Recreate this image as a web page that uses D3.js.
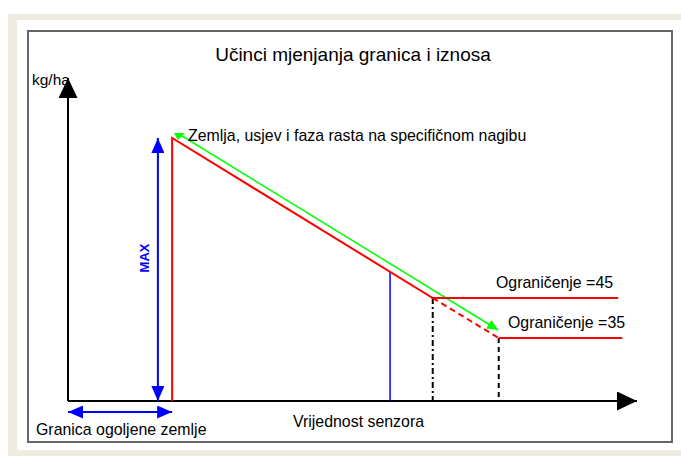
<!DOCTYPE html>
<html>
<head>
    <meta charset="utf-8">
    <title>Učinci mjenjanja granica i iznosa</title>
    <script src="https://d3js.org/d3.v7.min.js"></script>
    <style>
        body { margin: 0; background: #fff; }
        text { font-family: "Liberation Sans", Arial, sans-serif; }
    </style>
</head>
<body>
    <div id="chart"></div>
    <script>
// data (x: sensor value 0-100, y: kg/ha)
const yFloor = 19.25;
const redResponse = [[18.3, 19.25], [18.3, 85], [64.1, 45], [96.7, 45]];
const redExtension = [[64.1, 45], [75.7, 35]];
const redLimit35 = [[75.7, 35], [97.4, 35]];
const greenSlope = [[19.5, 86], [75.6, 37]];
const sensorReading = [[56.6, 19.25], [56.6, 51.6]];
const limitDrops = [[64.1, 45], [75.7, 35]];
const maxArrow = [[15.8, 85], [15.8, 19.25]];
const bareSoil = [0, 18.3];
const limitLabels = ["Ograničenje =45", "Ograničenje =35"];

const W = 681, H = 456;
const svg = d3.select("#chart").append("svg").attr("width", W).attr("height", H);

const x = d3.scaleLinear().domain([0, 100]).range([68, 637]);
const y = d3.scaleLinear().domain([yFloor, 100]).range([401, 78]);
const line = d3.line().x(d => x(d[0])).y(d => y(d[1]));

// window background
svg.append("rect").attr("x", 8).attr("y", 14).attr("width", W).attr("height", H).attr("fill", "#eeebe1");
svg.append("rect").attr("x", 17).attr("y", 20).attr("width", W).attr("height", 430).attr("fill", "#fff");
svg.append("rect").attr("x", 28).attr("y", 31).attr("width", 644).attr("height", 411)
    .attr("fill", "none").attr("stroke", "#666").attr("stroke-width", 2);

// markers
const defs = svg.append("defs");
const marker = (id, w, h, color, orient) => defs.append("marker")
    .attr("id", id).attr("markerUnits", "userSpaceOnUse")
    .attr("markerWidth", w).attr("markerHeight", h)
    .attr("refX", w).attr("refY", h / 2).attr("orient", orient)
    .append("path").attr("d", `M0,0L${w},${h / 2}L0,${h}Z`).attr("fill", color);
marker("blackArrow", 20, 19, "#000", "auto");
marker("blueArrow", 15, 13, "#0000ff", "auto-start-reverse");
marker("greenArrow", 11, 10, "#00ff00", "auto");
defs.append("marker").attr("id", "greenStart").attr("markerUnits", "userSpaceOnUse")
    .attr("markerWidth", 12).attr("markerHeight", 9).attr("refX", 5).attr("refY", 1).attr("orient", 0)
    .append("path").attr("d", "M0,0L11,0L4,7Z").attr("fill", "#00ff00");

// axes
svg.append("line").attr("x1", x(0)).attr("y1", y(yFloor)).attr("x2", x(100)).attr("y2", y(yFloor))
    .attr("stroke", "#000").attr("stroke-width", 2).attr("marker-end", "url(#blackArrow)");
svg.append("line").attr("x1", x(0)).attr("y1", y(yFloor)).attr("x2", x(0)).attr("y2", y(100))
    .attr("stroke", "#000").attr("stroke-width", 2).attr("marker-end", "url(#blackArrow)");

// limit drop lines
svg.selectAll(".drop").data(limitDrops).enter().append("line")
    .attr("class", "drop")
    .attr("x1", d => x(d[0])).attr("x2", d => x(d[0]))
    .attr("y1", d => y(d[1])).attr("y2", y(yFloor))
    .attr("stroke", "#000").attr("stroke-width", 2)
    .attr("stroke-dasharray", (d, i) => i === 0 ? "6,3,2,3" : "5,4");

// blue sensor reading
svg.append("path").attr("d", line(sensorReading)).attr("stroke", "#0000ff").attr("stroke-width", 1.5).attr("fill", "none");

// green slope
svg.append("path").attr("d", line(greenSlope)).attr("stroke", "#00ff00").attr("stroke-width", 1.5).attr("fill", "none")
    .attr("marker-start", "url(#greenStart)").attr("marker-end", "url(#greenArrow)");

// red response
svg.append("path").attr("d", line(redResponse)).attr("stroke", "#ff0000").attr("stroke-width", 2).attr("fill", "none");
svg.append("path").attr("d", line(redExtension)).attr("stroke", "#ff0000").attr("stroke-width", 2).attr("fill", "none")
    .attr("stroke-dasharray", "6,4");
svg.append("path").attr("d", line(redLimit35)).attr("stroke", "#ff0000").attr("stroke-width", 2).attr("fill", "none");

// MAX arrow
svg.append("path").attr("d", line(maxArrow)).attr("stroke", "#0000ff").attr("stroke-width", 2).attr("fill", "none")
    .attr("marker-start", "url(#blueArrow)").attr("marker-end", "url(#blueArrow)");
svg.append("text").attr("transform", `translate(${x(maxArrow[0][0]) - 9},${y(55)}) rotate(-90)`)
    .attr("text-anchor", "middle").attr("font-size", 13).attr("font-weight", "bold").attr("fill", "#0000ff")
    .text("MAX");

// bare soil arrow
svg.append("line").attr("x1", x(bareSoil[0])).attr("x2", x(bareSoil[1]))
    .attr("y1", y(yFloor) + 11).attr("y2", y(yFloor) + 11)
    .attr("stroke", "#0000ff").attr("stroke-width", 2)
    .attr("marker-start", "url(#blueArrow)").attr("marker-end", "url(#blueArrow)");

// text
svg.append("text").attr("x", 353).attr("y", 61).attr("text-anchor", "middle").attr("font-size", 19)
    .text("Učinci mjenjanja granica i iznosa");
svg.append("text").attr("x", 32).attr("y", 85).attr("font-size", 15.5).text("kg/ha");
svg.append("text").attr("x", 188).attr("y", 141).attr("font-size", 15.9)
    .text("Zemlja, usjev i faza rasta na specifičnom nagibu");
svg.selectAll(".limit").data(limitLabels).enter().append("text")
    .attr("x", (d, i) => i === 0 ? 496 : 508)
    .attr("y", (d, i) => y(limitDrops[i][1]) - 10)
    .attr("font-size", 15.9).text(d => d);
svg.append("text").attr("x", 293).attr("y", 427).attr("font-size", 15.9).text("Vrijednost senzora");
svg.append("text").attr("x", 36).attr("y", 435).attr("font-size", 15.9).text("Granica ogoljene zemlje");
    </script>
</body>
</html>
